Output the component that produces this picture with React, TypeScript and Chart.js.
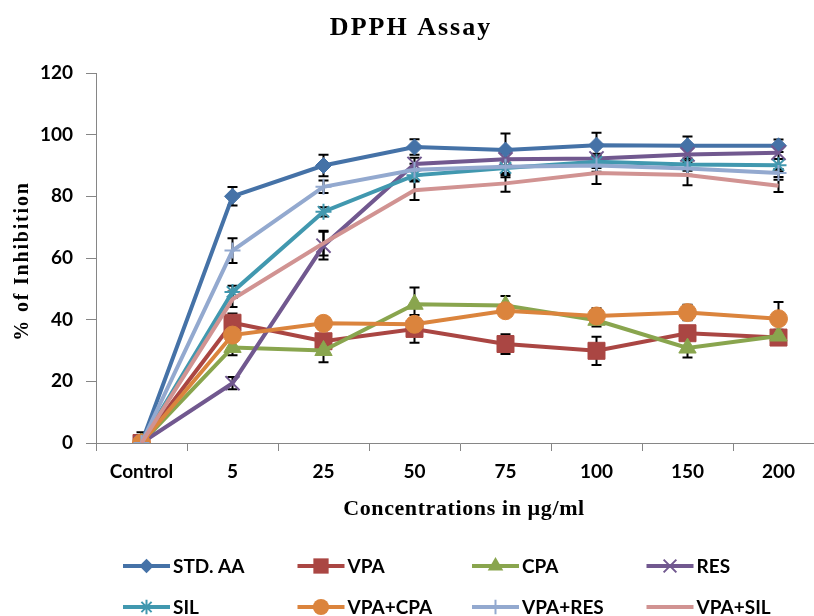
import React, { useEffect, useRef } from 'react';
import { Chart, registerables } from 'chart.js';

Chart.register(...registerables);

const categories = ['Control', '5', '25', '50', '75', '100', '150', '200'];
const seriesNames = ['STD. AA', 'VPA', 'CPA', 'RES', 'SIL', 'VPA+CPA', 'VPA+RES', 'VPA+SIL'];
const yTicks = [0, 20, 40, 60, 80, 100, 120];

const stdAA = [0, 80, 90, 96, 95, 96.6, 96.4, 96.4];
const stdAAErr = [3.5, 3, 3.5, 2.5, 5.4, 4, 3, 2];
const vpa = [0, 39, 33, 37, 32.1, 29.9, 35.6, 34.2];
const vpaErr = [0, 3, 2, 4.5, 3.2, 4.6, 2, 1.5];
const cpa = [0, 31, 30, 45, 44.6, 39.8, 30.8, 34.7];
const cpaErr = [0, 2.5, 3.8, 5.4, 3.1, 2, 3.1, 2];
const res = [0, 19.4, 64, 90.5, 92, 92.3, 93.6, 94.1];
const resErr = [0, 2, 4.5, 2, 2, 1.5, 2, 2];
const sil = [0, 49, 75, 86.8, 89.2, 91.2, 90.3, 90.1];
const silErr = [0, 2, 1.5, 2, 3, 2, 2, 2];
const vpaCpa = [0, 35, 38.8, 38.5, 42.9, 41.2, 42.3, 40.3];
const vpaCpaErr = [0, 2, 1.5, 2, 1.5, 2.5, 2.5, 5.4];
const vpaRes = [0, 62.4, 83.1, 88.6, 89.6, 90, 89, 87.6];
const vpaResErr = [0, 4, 2, 2, 2, 2, 2, 1.3];
const vpaSil = [0, 46.6, 64.8, 82, 84.2, 87.6, 86.9, 83.4];
const vpaSilErr = [0, 2.5, 4, 3.2, 2.7, 3.6, 3.3, 2];

const seriesValues = [stdAA, vpa, cpa, res, sil, vpaCpa, vpaRes, vpaSil];
const seriesErrors = [stdAAErr, vpaErr, cpaErr, resErr, silErr, vpaCpaErr, vpaResErr, vpaSilErr];
const colors = ['#4572A7', '#AA4643', '#89A54E', '#71588F', '#4198AF', '#DB843D', '#93A9CF', '#D19392'];
const pointStyles: any[] = ['rectRot', 'rect', 'triangle', 'crossRot', 'star', 'circle', 'cross', 'circle'];
const pointRadii = [8, 12, 10, 10, 8, 9, 8, 0];

const tickFont = { family: 'Lato', weight: 'bold' as const, size: 19 };

function drawMarker(ctx: CanvasRenderingContext2D, style: string, x: number, y: number, r: number, color: string) {
  if (!r) return;
  ctx.save();
  ctx.fillStyle = color;
  ctx.strokeStyle = color;
  ctx.lineWidth = 2;
  ctx.beginPath();
  if (style === 'rectRot') {
    ctx.moveTo(x - r, y); ctx.lineTo(x, y - r); ctx.lineTo(x + r, y); ctx.lineTo(x, y + r); ctx.closePath(); ctx.fill();
  } else if (style === 'rect') {
    const s = r * Math.SQRT1_2;
    ctx.rect(x - s, y - s, 2 * s, 2 * s); ctx.fill();
  } else if (style === 'triangle') {
    ctx.moveTo(x, y - r); ctx.lineTo(x + r * Math.sin(2 * Math.PI / 3), y + r * 0.5); ctx.lineTo(x - r * Math.sin(2 * Math.PI / 3), y + r * 0.5); ctx.closePath(); ctx.fill();
  } else if (style === 'circle') {
    ctx.arc(x, y, r, 0, Math.PI * 2); ctx.fill();
  } else if (style === 'crossRot') {
    const o = r * Math.SQRT1_2;
    ctx.moveTo(x - o, y - o); ctx.lineTo(x + o, y + o); ctx.moveTo(x - o, y + o); ctx.lineTo(x + o, y - o); ctx.stroke();
  } else if (style === 'star') {
    const o = r * Math.SQRT1_2;
    ctx.moveTo(x - o, y - o); ctx.lineTo(x + o, y + o); ctx.moveTo(x - o, y + o); ctx.lineTo(x + o, y - o);
    ctx.moveTo(x, y - r); ctx.lineTo(x, y + r); ctx.stroke();
  } else if (style === 'cross') {
    ctx.moveTo(x, y - r); ctx.lineTo(x, y + r); ctx.moveTo(x - r, y); ctx.lineTo(x + r, y); ctx.stroke();
  }
  ctx.restore();
}

const errorBarPlugin = {
  id: 'errorBars',
  beforeDatasetsDraw(chart: any) {
    const ctx = chart.ctx;
    const xs = chart.scales.x;
    const ys = chart.scales.y;
    ctx.save();
    ctx.strokeStyle = '#000';
    ctx.lineWidth = 2;
    seriesValues.forEach((vals, i) => {
      vals.forEach((v, j) => {
        const e = seriesErrors[i][j];
        if (!e) return;
        const x = xs.getPixelForValue(j);
        const yt = ys.getPixelForValue(v + e);
        const yb = ys.getPixelForValue(Math.max(v - e, 0));
        ctx.beginPath();
        ctx.moveTo(x, yt); ctx.lineTo(x, yb);
        ctx.moveTo(x - 5, yt); ctx.lineTo(x + 5, yt);
        if (v - e >= 0) { ctx.moveTo(x - 5, yb); ctx.lineTo(x + 5, yb); }
        ctx.stroke();
      });
    });
    ctx.restore();
  },
};

const textPlugin = {
  id: 'texts',
  afterDraw(chart: any) {
    const ctx = chart.ctx as CanvasRenderingContext2D;
    ctx.save();
    ctx.fillStyle = '#000';
    // Title
    ctx.font = 'bold 26px "Liberation Serif"';
    (ctx as any).letterSpacing = '2px';
    ctx.textAlign = 'center';
    ctx.textBaseline = 'alphabetic';
    ctx.fillText('DPPH Assay', 411, 35);
    // X title
    ctx.font = 'bold 22px "Liberation Serif"';
    (ctx as any).letterSpacing = '0.6px';
    ctx.fillText('Concentrations in µg/ml', 464, 515);
    // Y title
    ctx.save();
    ctx.translate(28, 261);
    ctx.rotate(-Math.PI / 2);
    ctx.font = 'bold 20px "Liberation Serif"';
    (ctx as any).letterSpacing = '1.8px';
    ctx.fillText('% of Inhibition', 0, 0);
    ctx.restore();
    (ctx as any).letterSpacing = '0px';
    // Legend
    ctx.font = 'bold 19px Lato';
    ctx.textAlign = 'left';
    ctx.textBaseline = 'middle';
    seriesNames.forEach((name, i) => {
      const col = i % 4;
      const row = Math.floor(i / 4);
      const x0 = 123 + col * 174.5;
      const y = row === 0 ? 566 : 607;
      ctx.save();
      ctx.strokeStyle = colors[i];
      ctx.lineWidth = 4;
      ctx.beginPath();
      ctx.moveTo(x0, y);
      ctx.lineTo(x0 + 47, y);
      ctx.stroke();
      ctx.restore();
      drawMarker(ctx, pointStyles[i], x0 + 23.5, y, pointRadii[i] * 0.9, colors[i]);
      ctx.fillStyle = '#000';
      ctx.fillText(name, x0 + 50, y + 1);
    });
    ctx.restore();
  },
};

export default function App() {
  const ref = useRef<HTMLCanvasElement | null>(null);
  useEffect(() => {
    if (!ref.current) return;
    const chart = new Chart(ref.current, {
      type: 'line',
      data: {
        labels: categories,
        datasets: seriesValues.map((vals, i) => ({
          label: seriesNames[i],
          data: vals,
          borderColor: colors[i],
          backgroundColor: colors[i],
          borderWidth: 4,
          pointStyle: pointStyles[i],
          pointRadius: pointRadii[i],
          pointHoverRadius: pointRadii[i],
          pointBackgroundColor: colors[i],
          pointBorderColor: colors[i],
          pointBorderWidth: ['crossRot', 'star', 'cross'].includes(pointStyles[i]) ? 2 : 1,
          tension: 0,
          fill: false,
          order: 7 - i,
        })),
      },
      options: {
        animation: false,
        responsive: false,
        devicePixelRatio: 1,
        layout: { padding: { left: 0, right: 5, top: 73, bottom: 0 } },
        plugins: {
          legend: { display: false },
          title: { display: false },
          tooltip: { enabled: false },
        },
        scales: {
          x: {
            type: 'category',
            offset: true,
            ticks: { font: tickFont, color: '#000', padding: 9, maxRotation: 0, autoSkip: false },
            grid: { drawOnChartArea: false, offset: true, tickLength: 8, color: '#868686', lineWidth: 1 },
            border: { color: '#868686', width: 1 },
            afterFit: (s: any) => { s.height = 173; },
          },
          y: {
            min: 0,
            max: 120,
            afterBuildTicks: (s: any) => { s.ticks = yTicks.map((v) => ({ value: v })); },
            ticks: { font: tickFont, color: '#000', padding: 13 },
            grid: { drawOnChartArea: false, tickLength: 10, color: '#868686', lineWidth: 1 },
            border: { color: '#868686', width: 1 },
            afterFit: (s: any) => { s.width = 96; },
          },
        },
      },
      plugins: [errorBarPlugin, textPlugin],
    });
    return () => chart.destroy();
  }, []);
  return (
    <div style={{ position: 'fixed', left: 0, top: 0, width: 814, height: 616, overflow: 'hidden', background: '#fff' }}>
      <canvas ref={ref} width={837} height={616} style={{ display: 'block' }} />
    </div>
  );
}
